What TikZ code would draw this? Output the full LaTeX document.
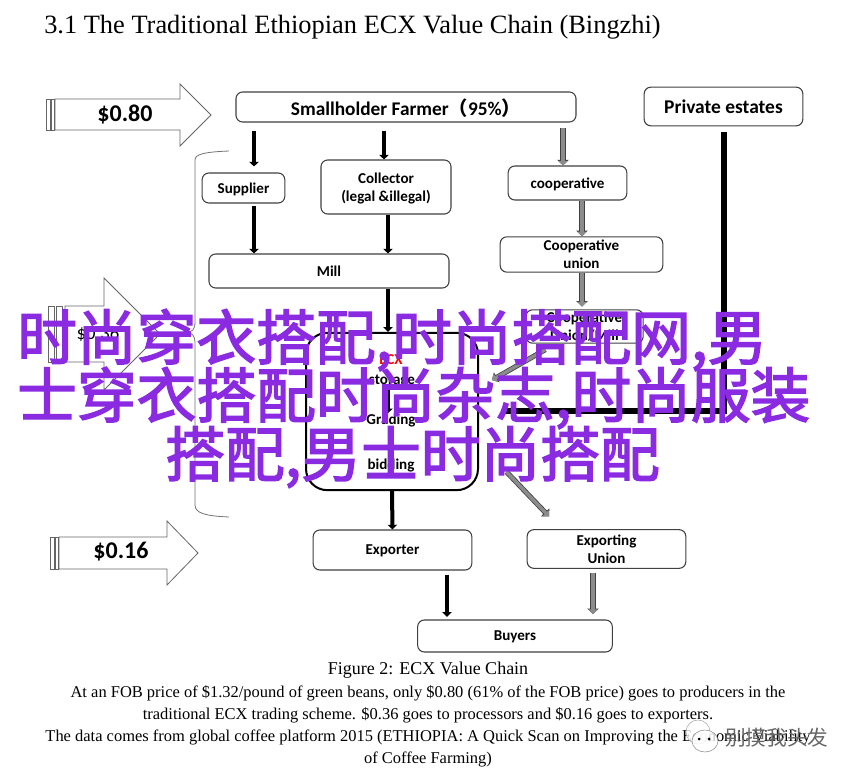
\documentclass[tikz,border=0pt]{standalone}
\usepackage{fontspec}
\setmainfont{Liberation Serif}
\newfontfamily\boxfont{Carlito}
\newfontfamily\markfont[FakeBold=2.4]{Noto Sans CJK SC}
\newfontfamily\parenfont{Noto Sans CJK SC}
\usetikzlibrary{arrows.meta, positioning, calc}
\definecolor{markpurple}{RGB}{138,43,226}

\begin{document}
\begin{tikzpicture}[x=.75pt,y=-.75pt,
            every node/.style={align=center},
            stage/.style={draw=black!75, thick, rounded corners=5pt, inner sep=0pt, text depth=0pt, font=\boxfont\bfseries\fontsize{11.3}{13.5}\selectfont},
            price/.style={draw=black!60, semithick, fill=white},
            pricetext/.style={font=\boxfont\bfseries\fontsize{18}{20}\selectfont, inner sep=0pt},
            blackto/.style={-{Triangle[length=3.5pt,width=7pt]}, line width=3pt, black},
            greyto/.style={-{Triangle[length=3.5pt,width=7pt]}, line width=2.6pt, black!45,
                preaction={draw=black!75, line width=3.8pt, -{Triangle[length=4.2pt,width=8.4pt]}}},
            caption/.style={font=\fontsize{12.35}{15}\selectfont, inner sep=0pt},
            wm/.style={font=\markfont\fontsize{44.8}{50}\selectfont, text=markpurple, inner sep=0pt, anchor=west}]
        \fill[white] (0,0) rectangle (854,777);
        \useasboundingbox (0,0) rectangle (854,777);

        \node[font=\fontsize{19.8}{22}\selectfont, anchor=west, inner sep=0pt] (title) at (44,27) {3.1 The Traditional Ethiopian ECX Value Chain (Bingzhi)};

        % price arrows
        \draw[price] (46,99) rectangle (50,130) (51,99) rectangle (54,130);
        \draw[price] (55,99) -- (180,99) -- (180,84) -- (211,115) -- (180,146) -- (180,130) -- (55,130) -- cycle;
        \node[pricetext] (p80) at (125,114) {\$0.80};
        \draw[price] (48,306) rectangle (54,362) (56,306) rectangle (62,362);
        \draw[price] (65,306) -- (104,306) -- (104,278) -- (160,334) -- (104,390) -- (104,362) -- (65,362) -- cycle;
        \node[pricetext, font=\boxfont\fontsize{14}{16}\selectfont] (p36) at (98,334) {\$0.36};
        \draw[price] (50,537) rectangle (54,569) (55,537) rectangle (58,569);
        \draw[price] (59,537) -- (167,537) -- (167,521) -- (198,553) -- (167,585) -- (167,569) -- (59,569) -- cycle;
        \node[pricetext] (p16) at (121,552) {\$0.16};

        % bracket
        \draw[black!55, semithick] (229,151) .. controls (205,152) and (195,154) .. (195,160) -- (195,322)
            .. controls (195,330) and (192,332) .. (187,332) .. controls (192,333) and (195,336) .. (195,342)
            -- (195,505) .. controls (195,513) and (205,516) .. (229,517);

        % stages
        \node[stage, minimum width=255pt, minimum height=22.5pt, font=\boxfont\bfseries\fontsize{14.5}{16}\selectfont] (farmer) at (406,107) {Smallholder Farmer{\parenfont （}95\%{\parenfont ）}};
        \node[stage, minimum width=119pt, minimum height=29pt, font=\boxfont\bfseries\fontsize{14.6}{16}\selectfont] (estates) at (723.5,106.5) {Private estates};
        \node[stage, minimum width=62pt, minimum height=22.5pt] (supplier) at (243.5,188) {Supplier};
        \node[stage, minimum width=97.5pt, minimum height=40.5pt] (collector) at (386,187) {Collector\\(legal \&illegal)};
        \node[stage, minimum width=180pt, minimum height=25.5pt] (mill) at (329,271) {Mill};
        \node[stage, minimum width=89pt, minimum height=25.5pt] (coop) at (567.5,183) {cooperative};
        \node[stage, minimum width=122pt, minimum height=26.5pt] (coopunion) at (581.5,254.5) {Cooperative\\union};
        \node[stage, minimum width=88pt, minimum height=25pt] (coopmill) at (584.5,326.5) {Cooperative\\Union/Mill};
        \node[draw, line width=1.5pt, rounded corners=16pt, minimum width=129pt, minimum height=118pt, inner sep=0pt] (ecx) at (392,411.5) {};
        \node[stage, draw=none, text=red] (ecxname) at (391,360) {ECX};
        \node[stage, draw=none] (storage) at (392,380) {storage};
        \node[stage, draw=none] (grading) at (391,419) {Grading};
        \node[stage, draw=none] (bidding) at (391,464) {bidding};
        \node[stage, minimum width=119pt, minimum height=30pt] (exporter) at (392.5,550) {Exporter};
        \node[stage, minimum width=119pt, minimum height=29pt] (union) at (606.5,549) {Exporting\\Union};
        \node[stage, minimum width=146pt, minimum height=24pt] (buyers) at (515,636) {Buyers};

        % lines the arrows run on
        \coordinate (lineA) at (254,0);
        \coordinate (lineB) at (384,0);
        \coordinate (lineC) at (388,0);
        \coordinate (lineD) at (563,0);
        \coordinate (lineE) at (582,0);
        \coordinate (lineF) at (447,0);
        \coordinate (lineG) at (593,0);
        \coordinate (coopout) at (557,343);
        \coordinate (ecxin) at (478,388);
        \coordinate (ecxout) at (478,442);
        \coordinate (unionin) at (561,529);

        \draw[blackto, shorten <=6pt] (farmer.south -| lineA) -- ($(supplier.north -| lineA)+(0,-6)$);
        \draw[blackto, shorten <=6pt] (farmer.south -| lineB) -- (collector.north -| lineB);
        \draw[blackto, shorten <=2pt] (supplier.south -| lineA) -- (mill.north -| lineA);
        \draw[blackto] (collector.south -| lineC) -- (mill.north -| lineC);
        \draw[blackto] (mill.south -| lineC) -- (ecx.north -| lineC);
        \draw[blackto] (storage.south -| lineC) -- (grading.north -| lineC);
        \draw[blackto] (ecx.south) -- (exporter.north);
        \draw[blackto, shorten <=3pt, shorten >=2pt] (exporter.south -| lineF) -- (buyers.north -| lineF);

        \draw[greyto, shorten <=4pt] (farmer.south -| lineD) -- (coop.north -| lineD);
        \draw[greyto] (coop.south -| lineE) -- (coopunion.north -| lineE);
        \draw[greyto, shorten >=2pt] (coopunion.south -| lineE) -- (coopmill.north -| lineE);
        \draw[greyto, shorten <=10pt, shorten >=12pt] (coopout) -- (ecxin);
        \draw[greyto, shorten <=31pt, shorten >=13pt] (ecxout) -- (unionin);
        \draw[greyto, shorten <=3pt, shorten >=4pt] (union.south -| lineG) -- (buyers.north -| lineG);

        \draw[line width=4.5pt, shorten <=4.5pt, shorten >=19pt] (estates.south) |- (ecx.east);

        % caption
        \node[caption, font=\fontsize{13.5}{15}\selectfont] (figname) at (428,670) {Figure 2: ECX Value Chain};
        \node[caption] (cap1) at (428,693) {At an FOB price of \$1.32/pound of green beans, only \$0.80 (61\% of the FOB price) goes to producers in the};
        \node[caption] (cap2) at (428,715) {traditional ECX trading scheme. \$0.36 goes to processors and \$0.16 goes to exporters.};
        \node[caption] (cap3) at (428,737) {The data comes from global coffee platform 2015 (ETHIOPIA: A Quick Scan on Improving the Economic Viability};
        \node[caption] (cap4) at (428,759) {of Coffee Farming)};

        % overlaid text
        \node[wm] (mark1) at (17,340) {时尚穿衣搭配,时尚搭配网,男};
        \node[wm] (mark2) at (17,398) {士穿衣搭配时尚杂志,时尚服装};
        \node[wm] (mark3) at (165,457) {搭配,男士时尚搭配};
        \draw[black!35, fill=white, fill opacity=.75] (698,732) circle (12);
        \draw[black!45, fill=white, fill opacity=.8] (705,741) ellipse (13 and 11);
        \fill[black] (699,739) circle (1.5) (709,739) circle (1.5);
        \node[font=\parenfont\fontsize{15.5}{17}\selectfont, text=black!60, inner sep=0pt, anchor=west] (mark4) at (725,738) {别摸我头发};
    \end{tikzpicture}
\end{document}
